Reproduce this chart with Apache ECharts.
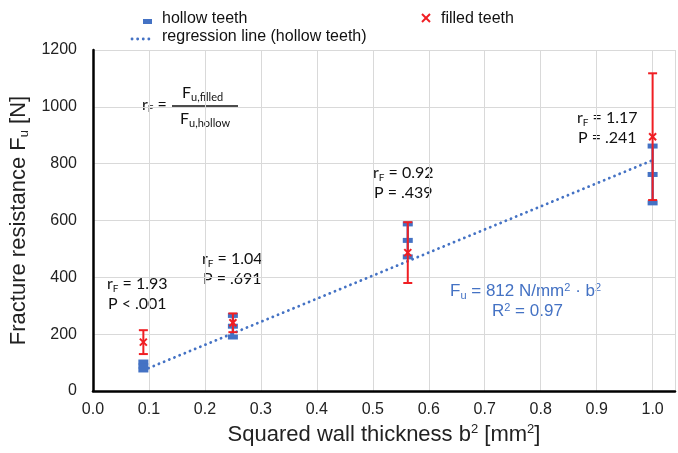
<!DOCTYPE html>
<html><head><meta charset="utf-8">
<script src="https://cdn.jsdelivr.net/npm/echarts@6/dist/echarts.min.js"></script>
<style>html,body{margin:0;padding:0;background:#fff}#c{width:678px;height:453px}</style>
</head><body><div id="c"></div>
<script>
// ---- data ----
const xValues = [0.09, 0.25, 0.5625, 1.0];
const hollowMean = [88, 228, 530, 762];
const hollowErr = [14, 38, 58, 100];
const filledMean = [172, 240, 487, 895];
const filledErr = [42, 33, 107, 223];
const regressionX = [0.09, 1.0];
const regressionY = [73, 812];
const ratioLabels = ['1.93', '1.04', '0.92', '1.17'];
const pLabels = ['P < .001', 'P = .691', 'P = .439', 'P = .241'];

const BLUE = '#4472C4', RED = '#F01E23';
const hollowData = xValues.map((x,i)=>[x, hollowMean[i], hollowMean[i]-hollowErr[i], hollowMean[i]+hollowErr[i]]);
const filledData = xValues.map((x,i)=>[x, filledMean[i], filledMean[i]-filledErr[i], filledMean[i]+filledErr[i]]);
const regData = regressionX.map((x,i)=>[x, regressionY[i]]);

function hollowRender(params, api){
  const x=api.value(0), m=api.value(1), lo=api.value(2), hi=api.value(3);
  const pm=api.coord([x,m]), pl=api.coord([x,lo]), ph=api.coord([x,hi]);
  const w=10, h=5;
  return {type:'group', children:[
    {type:'line', shape:{x1:pm[0],y1:pl[1],x2:pm[0],y2:ph[1]}, style:{stroke:BLUE,lineWidth:2.5}},
    {type:'rect', shape:{x:pm[0]-w/2,y:pl[1]-h/2,width:w,height:h}, style:{fill:BLUE}},
    {type:'rect', shape:{x:pm[0]-w/2,y:ph[1]-h/2,width:w,height:h}, style:{fill:BLUE}},
    {type:'rect', shape:{x:pm[0]-w/2,y:pm[1]-h/2,width:w,height:h}, style:{fill:BLUE}}
  ]};
}
function filledRender(params, api){
  const x=api.value(0), m=api.value(1), lo=api.value(2), hi=api.value(3);
  const pm=api.coord([x,m]), pl=api.coord([x,lo]), ph=api.coord([x,hi]);
  const cw=4.5, s=3.5;
  return {type:'group', children:[
    {type:'line', shape:{x1:pm[0],y1:pl[1],x2:pm[0],y2:ph[1]}, style:{stroke:RED,lineWidth:2}},
    {type:'line', shape:{x1:pm[0]-cw,y1:pl[1],x2:pm[0]+cw,y2:pl[1]}, style:{stroke:RED,lineWidth:2}},
    {type:'line', shape:{x1:pm[0]-cw,y1:ph[1],x2:pm[0]+cw,y2:ph[1]}, style:{stroke:RED,lineWidth:2}},
    {type:'line', shape:{x1:pm[0]-s,y1:pm[1]-s,x2:pm[0]+s,y2:pm[1]+s}, style:{stroke:RED,lineWidth:2}},
    {type:'line', shape:{x1:pm[0]-s,y1:pm[1]+s,x2:pm[0]+s,y2:pm[1]-s}, style:{stroke:RED,lineWidth:2}}
  ]};
}

const ANN = 'Lato, "Open Sans", sans-serif';
const AX = '"Liberation Sans", Arial, sans-serif';
function rfText(left, top, r, p){
  return {type:'text', left:left, top:top, style:{
    text:'{a|r}{s|F}{a| = '+r+'}\n{a|'+p+'}', align:'center', textAlign:'center',
    rich:{a:{fontFamily:ANN,fontSize:16,fill:'#111',lineHeight:20,align:'center'},
          s:{fontFamily:ANN,fontSize:10,fill:'#111',verticalAlign:'bottom',padding:[8,0,0,0],lineHeight:20}}
  }};
}
const annPos = [[107,276],[202,251],[373,165],[577,110]];

const chart = echarts.init(document.getElementById('c'));
chart.setOption({
  animation:false,
  grid:{left:91, top:50, right:0, bottom:62},
  xAxis:{type:'value', min:0, max:1.04, interval:0.1,
    axisLine:{show:true, lineStyle:{color:'#000', width:2.5}}, axisTick:{show:false},
    splitLine:{show:true, lineStyle:{color:'#d9d9d9', width:1}},
    axisLabel:{fontFamily:AX, fontSize:16, color:'#222', margin:11,
      formatter:v=>{const k=Math.round(v*10); return Math.abs(v*10-k)<1e-6 && k<=10 ? (k/10).toFixed(1) : '';}},
    name:'Squared wall thickness b{sup|2} [mm{sup|2}]', nameLocation:'middle', nameGap:32,
    nameTextStyle:{fontFamily:AX, fontSize:22, color:'#222', rich:{sup:{fontFamily:AX,fontSize:13,color:'#222',verticalAlign:'top',padding:[0,0,10,0]}}}
  },
  yAxis:{type:'value', min:0, max:1200, interval:200,
    axisLine:{show:true, lineStyle:{color:'#000', width:2.5}}, axisTick:{show:false},
    splitLine:{show:true, lineStyle:{color:'#d9d9d9', width:1}},
    axisLabel:{fontFamily:AX, fontSize:16, color:'#222', margin:16, formatter:v=>String(v)},
    name:'Fracture resistance F{sub|u} [N]', nameLocation:'middle', nameGap:58,
    nameTextStyle:{fontFamily:AX, fontSize:22, color:'#222', rich:{sub:{fontFamily:AX,fontSize:13,color:'#222',verticalAlign:'bottom',padding:[10,0,0,0]}}}
  },
  series:[
    {type:'line', data:regData, symbol:'none', z:2, lineStyle:{color:BLUE, width:2.8, type:[0.1,5.5], cap:'round'}},
    {type:'custom', data:hollowData, renderItem:hollowRender, z:3, encode:{x:0,y:[1,2,3]}},
    {type:'custom', data:filledData, renderItem:filledRender, z:4, encode:{x:0,y:[1,2,3]}}
  ],
  graphic:[
    {type:'rect', shape:{x:143,y:19,width:9,height:5}, style:{fill:BLUE}},
    {type:'text', left:162, top:11, style:{text:'hollow teeth', fontFamily:AX, fontSize:16, fill:'#111'}},
    {type:'line', shape:{x1:422,y1:14,x2:430,y2:22}, style:{stroke:RED,lineWidth:2}},
    {type:'line', shape:{x1:422,y1:22,x2:430,y2:14}, style:{stroke:RED,lineWidth:2}},
    {type:'text', left:441, top:11, style:{text:'filled teeth', fontFamily:AX, fontSize:16, fill:'#111'}},
    {type:'line', shape:{x1:132,y1:39,x2:152,y2:39}, style:{stroke:BLUE,lineWidth:2.8,lineDash:[0.1,5.5],lineCap:'round'}},
    {type:'text', left:162, top:29, style:{text:'regression line (hollow teeth)', fontFamily:AX, fontSize:16, fill:'#111'}},
    {type:'text', left:142, top:97, style:{text:'{a|r}{s|F}{a| =}', rich:{a:{fontFamily:ANN,fontSize:16,fill:'#111'},s:{fontFamily:ANN,fontSize:10,fill:'#111',padding:[8,0,0,0]}}}},
    {type:'line', shape:{x1:172,y1:106,x2:238,y2:106}, style:{stroke:'#111',lineWidth:1.5}},
    {type:'text', left:182, top:85, style:{text:'{a|F}{s|u,filled}', rich:{a:{fontFamily:ANN,fontSize:16,fill:'#111'},s:{fontFamily:ANN,fontSize:11,fill:'#111',padding:[8,0,0,0]}}}},
    {type:'text', left:180, top:111, style:{text:'{a|F}{s|u,hollow}', rich:{a:{fontFamily:ANN,fontSize:16,fill:'#111'},s:{fontFamily:ANN,fontSize:11,fill:'#111',padding:[8,0,0,0]}}}},
    ...annPos.map((p,i)=>rfText(p[0],p[1],ratioLabels[i],pLabels[i])),
    {type:'text', left:450, top:282, style:{text:'{a|F}{s|u}{a| = 812 N/mm}{p|2}{a| · b}{p|2}', rich:{
      a:{fontFamily:AX,fontSize:17,fill:BLUE}, s:{fontFamily:AX,fontSize:11,fill:BLUE,padding:[9,0,0,0]}, p:{fontFamily:AX,fontSize:11,fill:BLUE,padding:[0,0,8,0]}}}},
    {type:'text', left:492, top:302, style:{text:'{a|R}{p|2}{a| = 0.97}', rich:{
      a:{fontFamily:AX,fontSize:17,fill:BLUE}, p:{fontFamily:AX,fontSize:11,fill:BLUE,padding:[0,0,8,0]}}}}
  ]
});
</script></body></html>
